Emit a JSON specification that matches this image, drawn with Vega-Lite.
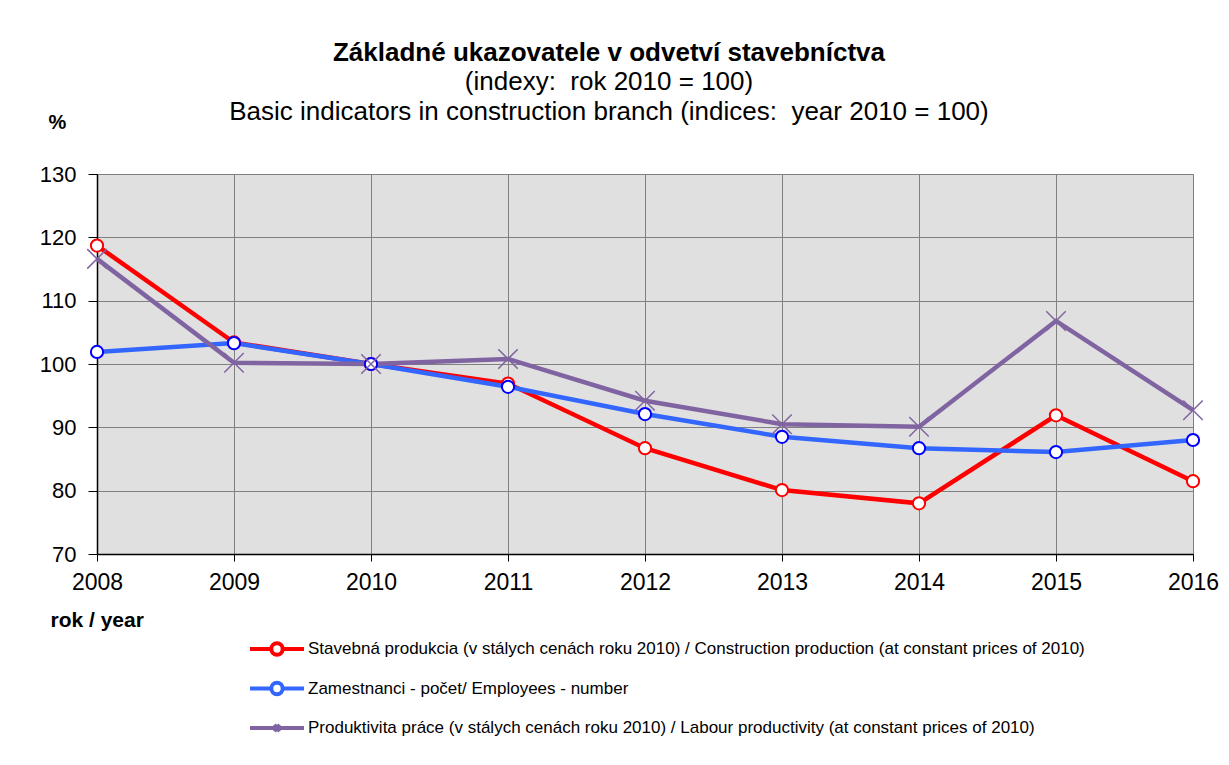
{
  "$schema": "https://vega.github.io/schema/vega-lite/v6.json",
  "width": 1096,
  "height": 380,
  "autosize": "none",
  "padding": {"left": 97, "top": 174, "right": 36, "bottom": 211},
  "background": "white",
  "config": {
    "font": "Liberation Sans",
    "view": {"fill": "#e0e0e0", "stroke": "#808080", "strokeWidth": 1}
  },
  "title": {
    "text": "Základné ukazovatele v odvetví stavebníctva",
    "subtitle": ["(indexy:\u00a0 rok 2010 = 100)", "Basic indicators in construction branch (indices:\u00a0 year 2010 = 100)"],
    "anchor": "middle",
    "dx": -36,
    "font": "Liberation Sans",
    "fontSize": 26,
    "fontWeight": "bold",
    "color": "#000",
    "subtitleFont": "Liberation Sans",
    "subtitleFontSize": 26,
    "subtitleColor": "#000",
    "subtitleLineHeight": 30,
    "subtitlePadding": 3,
    "offset": -13
  },
  "data": {
    "values": [
      {"year": 2008, "series": "Stavebná produkcia (v stálych cenách roku 2010) / Construction production (at constant prices of 2010)", "value": 118.7},
      {"year": 2009, "series": "Stavebná produkcia (v stálych cenách roku 2010) / Construction production (at constant prices of 2010)", "value": 103.4},
      {"year": 2010, "series": "Stavebná produkcia (v stálych cenách roku 2010) / Construction production (at constant prices of 2010)", "value": 100.0},
      {"year": 2011, "series": "Stavebná produkcia (v stálych cenách roku 2010) / Construction production (at constant prices of 2010)", "value": 96.9},
      {"year": 2012, "series": "Stavebná produkcia (v stálych cenách roku 2010) / Construction production (at constant prices of 2010)", "value": 86.7},
      {"year": 2013, "series": "Stavebná produkcia (v stálych cenách roku 2010) / Construction production (at constant prices of 2010)", "value": 80.1},
      {"year": 2014, "series": "Stavebná produkcia (v stálych cenách roku 2010) / Construction production (at constant prices of 2010)", "value": 78.0},
      {"year": 2015, "series": "Stavebná produkcia (v stálych cenách roku 2010) / Construction production (at constant prices of 2010)", "value": 91.9},
      {"year": 2016, "series": "Stavebná produkcia (v stálych cenách roku 2010) / Construction production (at constant prices of 2010)", "value": 81.5},
      {"year": 2008, "series": "Zamestnanci - počet/ Employees - number", "value": 101.9},
      {"year": 2009, "series": "Zamestnanci - počet/ Employees - number", "value": 103.3},
      {"year": 2010, "series": "Zamestnanci - počet/ Employees - number", "value": 100.0},
      {"year": 2011, "series": "Zamestnanci - počet/ Employees - number", "value": 96.4},
      {"year": 2012, "series": "Zamestnanci - počet/ Employees - number", "value": 92.1},
      {"year": 2013, "series": "Zamestnanci - počet/ Employees - number", "value": 88.5},
      {"year": 2014, "series": "Zamestnanci - počet/ Employees - number", "value": 86.7},
      {"year": 2015, "series": "Zamestnanci - počet/ Employees - number", "value": 86.1},
      {"year": 2016, "series": "Zamestnanci - počet/ Employees - number", "value": 88.0},
      {"year": 2008, "series": "Produktivita práce (v stálych cenách roku 2010) / Labour productivity (at constant prices of 2010)", "value": 116.6},
      {"year": 2009, "series": "Produktivita práce (v stálych cenách roku 2010) / Labour productivity (at constant prices of 2010)", "value": 100.2},
      {"year": 2010, "series": "Produktivita práce (v stálych cenách roku 2010) / Labour productivity (at constant prices of 2010)", "value": 100.0},
      {"year": 2011, "series": "Produktivita práce (v stálych cenách roku 2010) / Labour productivity (at constant prices of 2010)", "value": 100.8},
      {"year": 2012, "series": "Produktivita práce (v stálych cenách roku 2010) / Labour productivity (at constant prices of 2010)", "value": 94.2},
      {"year": 2013, "series": "Produktivita práce (v stálych cenách roku 2010) / Labour productivity (at constant prices of 2010)", "value": 90.5},
      {"year": 2014, "series": "Produktivita práce (v stálych cenách roku 2010) / Labour productivity (at constant prices of 2010)", "value": 90.1},
      {"year": 2015, "series": "Produktivita práce (v stálych cenách roku 2010) / Labour productivity (at constant prices of 2010)", "value": 106.8},
      {"year": 2016, "series": "Produktivita práce (v stálych cenách roku 2010) / Labour productivity (at constant prices of 2010)", "value": 92.7}
    ]
  },
  "encoding": {
    "x": {
      "field": "year", "type": "quantitative",
      "scale": {"domain": [2008, 2016], "nice": false, "zero": false},
      "axis": {
        "title": "rok / year", "titleFontSize": 21, "titleFontWeight": "bold", "titleColor": "#000",
        "titleAnchor": "start", "titleAlign": "left", "titleX": -47, "titleY": 66, "titleBaseline": "middle",
        "values": [2008, 2009, 2010, 2011, 2012, 2013, 2014, 2015, 2016],
        "format": "d", "labelFontSize": 23, "labelColor": "#000", "labelPadding": 10,
        "labelFlush": false, "labelOverlap": false,
        "grid": true, "gridColor": "#808080", "gridWidth": 1,
        "domainColor": "#000", "domainWidth": 1.5, "tickColor": "#000", "tickSize": 7
      }
    },
    "y": {
      "field": "value", "type": "quantitative",
      "scale": {"domain": [70, 130], "nice": false, "zero": false},
      "axis": {
        "title": "%", "titleAngle": 0, "titleFontSize": 20, "titleFontWeight": "bold", "titleColor": "#000",
        "titleX": -40, "titleY": -52, "titleAlign": "center", "titleBaseline": "middle",
        "values": [70, 80, 90, 100, 110, 120, 130],
        "labelFontSize": 22, "labelColor": "#000", "labelPadding": 12, "labelFlush": false,
        "grid": true, "gridColor": "#808080", "gridWidth": 1,
        "domainColor": "#000", "domainWidth": 1.5, "tickColor": "#000", "tickSize": 9
      }
    }
  },
  "layer": [
    {
      "mark": {"type": "line", "strokeWidth": 4.5},
      "encoding": {
        "stroke": {
          "field": "series", "type": "nominal",
          "scale": {
            "domain": [
              "Stavebná produkcia (v stálych cenách roku 2010) / Construction production (at constant prices of 2010)",
              "Zamestnanci - počet/ Employees - number",
              "Produktivita práce (v stálych cenách roku 2010) / Labour productivity (at constant prices of 2010)"
            ],
            "range": ["#ff0000", "#3366ff", "#8064a2"]
          },
          "legend": {
            "orient": "none", "legendX": 158, "legendY": 453, "title": null,
            "labelFontSize": 17, "labelColor": "#000", "labelLimit": 1000, "labelOffset": 9,
            "symbolSize": 1600, "symbolStrokeWidth": 4, "symbolFillColor": "white",
            "rowPadding": 3.5,
            "symbolType": "M-1.35,0H1.35",
            "encode": {
              "symbols": {
                "update": {
                  "shape": {"signal": "indexof(datum.value, 'Produktivita') === 0 ? 'M-1.35,0H1.35M-0.135,-0.16L0.135,0.16M-0.135,0.16L0.135,-0.16' : 'M-1.35,0H-0.285M0.285,0H1.35M-0.285,0A0.285,0.285 0 1,0 0.285,0A0.285,0.285 0 1,0 -0.285,0'"},
                  "fill": {"value": "white"},
                  "strokeWidth": {"value": 4}
                }
              }
            }
          }
        }
      }
    },
    {
      "transform": [{"filter": "indexof(datum.series, 'Produktivita') !== 0"}],
      "mark": {"type": "point", "filled": false, "fill": "white", "fillOpacity": 1, "strokeWidth": 2, "size": 150, "opacity": 1},
      "encoding": {
        "stroke": {
          "field": "series", "type": "nominal",
          "scale": {
            "domain": [
              "Stavebná produkcia (v stálych cenách roku 2010) / Construction production (at constant prices of 2010)",
              "Zamestnanci - počet/ Employees - number"
            ],
            "range": ["#ff0000", "#0000ff"]
          },
          "legend": null
        }
      }
    },
    {
      "transform": [{"filter": "indexof(datum.series, 'Produktivita') === 0"}],
      "mark": {"type": "point", "shape": "M-1,-1L1,1M-1,1L1,-1", "filled": false, "stroke": "#8064a2", "strokeWidth": 1.5, "size": 380, "opacity": 1}
    }
  ],
  "resolve": {"scale": {"stroke": "independent"}}
}
